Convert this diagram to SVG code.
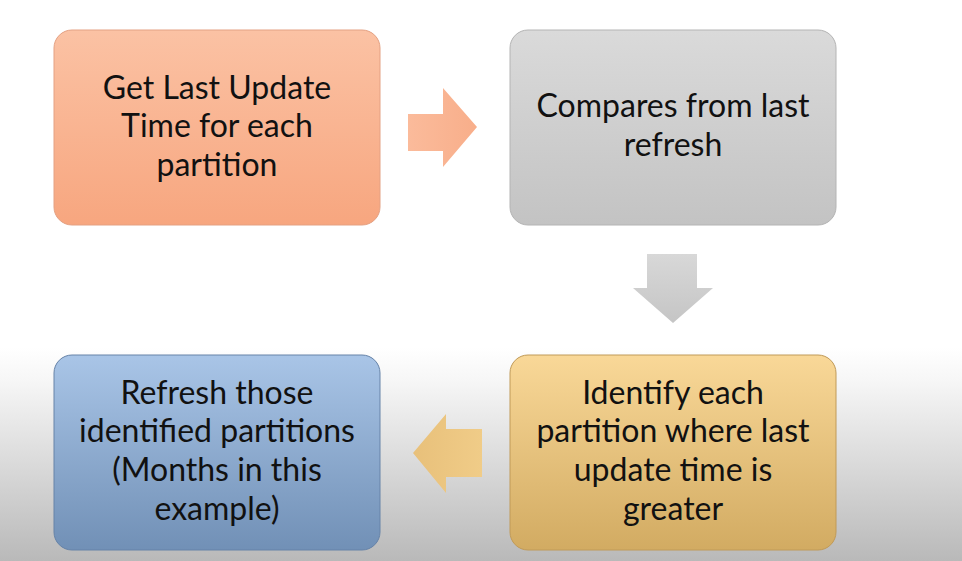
<svg xmlns="http://www.w3.org/2000/svg" width="962" height="561" viewBox="0 0 962 561">
<defs>
<linearGradient id="bg" x1="0" y1="0" x2="0" y2="1">
<stop offset="0" stop-color="#ffffff"/>
<stop offset="0.62" stop-color="#ffffff"/>
<stop offset="0.68" stop-color="#f6f6f6"/>
<stop offset="1" stop-color="#b9b9b9"/>
</linearGradient>
<linearGradient id="gOrange" x1="0" y1="0" x2="0" y2="1">
<stop offset="0" stop-color="#fbc2a4"/>
<stop offset="1" stop-color="#f7a67f"/>
</linearGradient>
<linearGradient id="gGrey" x1="0" y1="0" x2="0" y2="1">
<stop offset="0" stop-color="#dadada"/>
<stop offset="1" stop-color="#c3c3c3"/>
</linearGradient>
<linearGradient id="gGold" x1="0" y1="0" x2="0" y2="1">
<stop offset="0" stop-color="#f9d898"/>
<stop offset="1" stop-color="#d2ab62"/>
</linearGradient>
<linearGradient id="gBlue" x1="0" y1="0" x2="0" y2="1">
<stop offset="0" stop-color="#a9c5e7"/>
<stop offset="1" stop-color="#7190b6"/>
</linearGradient>
<linearGradient id="aOrange" x1="0" y1="0" x2="1" y2="0">
<stop offset="0" stop-color="#fbbb9b"/>
<stop offset="1" stop-color="#f8ae8a"/>
</linearGradient>
<linearGradient id="aGrey" x1="0" y1="0" x2="0" y2="1">
<stop offset="0" stop-color="#d8d8d8"/>
<stop offset="1" stop-color="#c5c5c5"/>
</linearGradient>
<linearGradient id="aGold" x1="1" y1="0" x2="0" y2="0">
<stop offset="0" stop-color="#f0cc88"/>
<stop offset="1" stop-color="#e8c07a"/>
</linearGradient>
</defs>
<style>
.box { stroke-width: 1; }
.lbl { font-family: Lato, "Liberation Sans", sans-serif; font-size: 32px; fill: #111111; text-anchor: middle; }
</style>
<rect x="0" y="0" width="962" height="561" fill="url(#bg)"/>

<g id="connectors">
<path d="M408 114 H443 V88 L477 127 L443 167 V151 H408 Z" fill="url(#aOrange)"/>
<path d="M647 254 H697 V288 H713 L673 323 L633 288 H647 Z" fill="url(#aGrey)"/>
<path d="M482 429 H446 V414 L413 453 L446 493 V477 H482 Z" fill="url(#aGold)"/>
</g>

<g id="node-get-last-update">
<rect class="box" x="54" y="30" width="326" height="195" rx="18" fill="url(#gOrange)" stroke="#e4a183"/>
<text class="lbl" x="217" y="99">Get Last Update</text>
<text class="lbl" x="217" y="137">Time for each</text>
<text class="lbl" x="217" y="176">partition</text>
</g>

<g id="node-compares">
<rect class="box" x="510" y="30" width="326" height="195" rx="18" fill="url(#gGrey)" stroke="#b4b4b4"/>
<text class="lbl" x="673" y="117">Compares from last</text>
<text class="lbl" x="673" y="156">refresh</text>
</g>

<g id="node-identify">
<rect class="box" x="510" y="355" width="326" height="195" rx="18" fill="url(#gGold)" stroke="#c09a58"/>
<text class="lbl" x="673" y="404">Identify each</text>
<text class="lbl" x="673" y="442">partition where last</text>
<text class="lbl" x="673" y="481">update time is</text>
<text class="lbl" x="673" y="520">greater</text>
</g>

<g id="node-refresh">
<rect class="box" x="54" y="355" width="326" height="195" rx="18" fill="url(#gBlue)" stroke="#6683a8"/>
<text class="lbl" x="217" y="404">Refresh those</text>
<text class="lbl" x="217" y="442">identified partitions</text>
<text class="lbl" x="217" y="481">(Months in this</text>
<text class="lbl" x="217" y="520">example)</text>
</g>
</svg>
